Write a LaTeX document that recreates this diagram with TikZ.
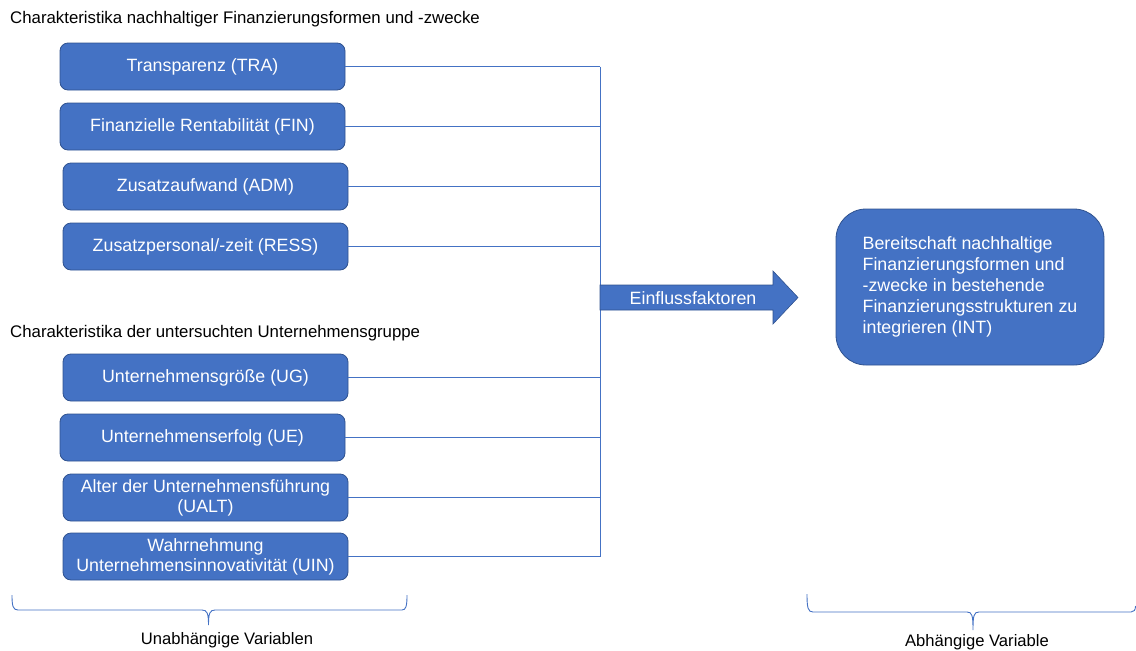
\documentclass[tikz,border=0pt]{standalone}
\usepackage{fontspec}
\setmainfont{Liberation Sans}
\definecolor{boxblue}{HTML}{4472C4}
\definecolor{boxedge}{HTML}{2F528F}
\begin{document}
\begin{tikzpicture}[x=1pt,y=-1pt,
  varbox/.style={draw=boxedge, fill=boxblue, rounded corners=8pt, minimum width=285pt,
    minimum height=47pt, text=white, font=\fontsize{17.8}{20}\selectfont, align=center,
    inner sep=0pt, line width=0.8pt},
  bigbox/.style={draw=boxedge, fill=boxblue, rounded corners=30pt, minimum width=268pt,
    minimum height=156pt, text=white, font=\fontsize{17.8}{21}\selectfont, align=left,
    inner sep=0pt, line width=0.8pt},
  link/.style={draw=boxblue, line width=0.9pt},
  header/.style={anchor=west, font=\fontsize{16.8}{20}\selectfont, inner sep=0pt},
  caption/.style={font=\fontsize{16.6}{20}\selectfont, inner sep=0pt},
  bracepath/.style={draw=boxblue, line width=0.9pt}
]
\useasboundingbox (0,0) rectangle (1136,651);

% headers
\node[header] (h1) at (10,19) {Charakteristika nachhaltiger Finanzierungsformen und -zwecke};
\node[header] (h2) at (10,333) {Charakteristika der untersuchten Unternehmensgruppe};

% variable boxes
\node[varbox] (tra)  at (202.5,66.5)  {Transparenz (TRA)};
\node[varbox] (fin)  at (202.5,126.5) {Finanzielle Rentabilität (FIN)};
\node[varbox] (adm)  at (205.5,186.5) {Zusatzaufwand (ADM)};
\node[varbox] (ress) at (205.5,246.5) {Zusatzpersonal/-zeit (RESS)};
\node[varbox] (ug)   at (205.5,377.5) {Unternehmensgröße (UG)};
\node[varbox] (ue)   at (202.5,437.5) {Unternehmenserfolg (UE)};
\node[varbox] (ualt) at (205.5,497.5) {Alter der Unternehmensführung\\(UALT)};
\node[varbox] (uin)  at (205.5,556.5) {Wahrnehmung\\Unternehmensinnovativität (UIN)};

% bus
\coordinate (bt) at (600,66.5);
\coordinate (bb) at (600,556.5);
\draw[link] (bt) -- (bb);
\foreach \n in {tra,fin,adm,ress,ug,ue,ualt,uin}
  \draw[link] (\n.east) -- (\n.east -| bt);

% arrow
\fill[boxblue, draw=boxedge, line width=0.6pt]
  (600,285) -- (773,285) -- (773,271) -- (798,297.5) -- (773,324) -- (773,310) -- (600,310) -- cycle;
\node[text=white, font=\fontsize{17.8}{20}\selectfont, inner sep=0pt] (einf) at (693,298) {Einflussfaktoren};

% dependent variable
\node[bigbox] (int) at (970,287) {Bereitschaft nachhaltige\\Finanzierungsformen und\\-zwecke in bestehende\\Finanzierungsstrukturen zu\\integrieren (INT)};

% braces
\draw[bracepath] (12,595) .. controls (12,606) and (13,610) .. (18,610) -- (202,610)
  .. controls (207,610) and (208.5,613) .. (208.5,625)
  .. controls (208.5,613) and (210,610) .. (215,610) -- (402,610)
  .. controls (406,610) and (407,606) .. (407,595);
\draw[bracepath] (807,594) .. controls (807,608) and (808,612) .. (813,612) -- (967,612)
  .. controls (972,612) and (973,615) .. (973,630)
  .. controls (973,615) and (974,612) .. (979,612) -- (1131,612)
  .. controls (1134,612) and (1135.5,610) .. (1135.5,606);

\node[caption] (uv) at (227,640) {Unabhängige Variablen};
\node[caption] (av) at (977,642) {Abhängige Variable};
\end{tikzpicture}
\end{document}
